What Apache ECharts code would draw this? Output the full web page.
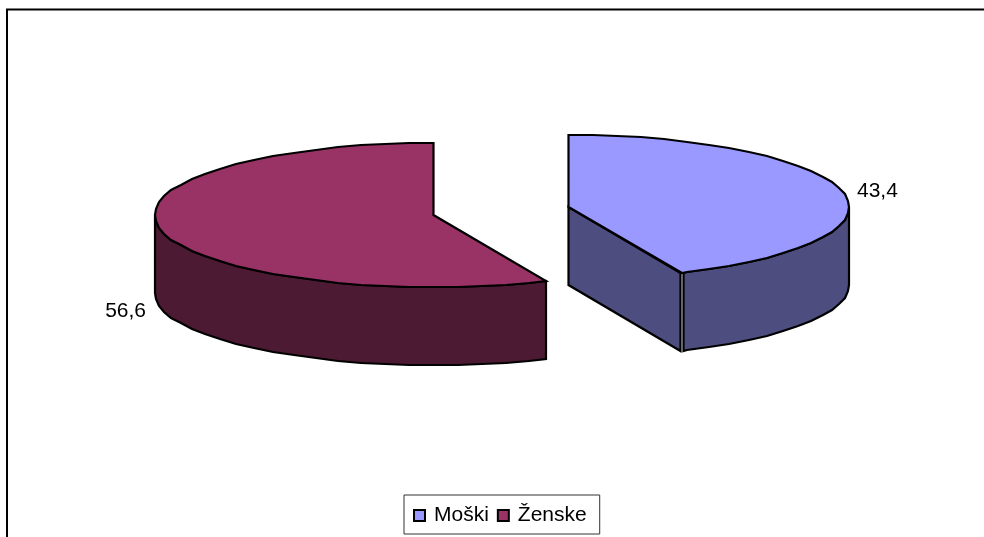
<!DOCTYPE html>
<html><head><meta charset="utf-8">
<style>html,body{margin:0;padding:0;background:#fff}#c{width:984px;height:537px}</style>
<script src="https://cdn.jsdelivr.net/npm/echarts@6/dist/echarts.min.js"></script>
</head><body><div id="c"></div>
<script>
const categories = ['Moški', 'Ženske'];
const values = [43.4, 56.6];
const topColors = ['#9999FF', '#993366'];
const sideColors = ['#4D4D80', '#4C1A33'];

const total = values.reduce((a, b) => a + b, 0);
const FONT = '"Liberation Sans", Arial, sans-serif';
const DEPTH = 78, STEP = 5;
const layouts = [
  { hx: 568.5, cx: 568.5, cy: 207, rx: 280.5, ry: 72, dir: 1, lx: 14, ly: -1, align: 'left', seam: 1.5 },
  { hx: 433.5, cx: 433.5, cy: 215, rx: 279, ry: 72, dir: -1, lx: -14, ly: 81, align: 'right', seam: 0 }
];

function point(l, deg) {
  const a = deg * Math.PI / 180;
  return [Math.round(l.cx + l.dir * Math.sin(a) * l.rx), Math.round(l.cy - Math.cos(a) * l.ry)];
}
function arc(l, from, to) {
  const pts = [];
  for (let d = from; d < to; d += STEP) pts.push(point(l, d));
  pts.push(point(l, to));
  return pts;
}
const down = p => [p[0], p[1] + DEPTH];
const polygon = (points, fill, z2) => ({
  type: 'polygon', z2,
  shape: { points },
  style: { fill, stroke: '#000', lineWidth: 2.2, lineJoin: 'miter' }
});

function renderSlice(params, api) {
  const i = params.seriesIndex;
  const l = layouts[i];
  const v = api.value(0);
  const sweep = v / total * 360;
  const children = [];
  const front = arc(l, 90, sweep);
  const last = front[front.length - 1];
  front[front.length - 1] = [last[0] + l.seam, last[1]];
  children.push(polygon(front.concat(front.slice().reverse().map(down)), sideColors[i], 1));
  if (l.dir === 1) {
    const c = [l.hx, l.cy], e = point(l, sweep);
    const ee = [e[0] - l.seam, e[1]];
    children.push(polygon([c, ee, down(ee), down(c)], sideColors[i], 2));
  }
  const start = point(l, 0);
  start[0] = l.hx;
  children.push(polygon([[l.hx, l.cy], start].concat(arc(l, STEP, sweep)), topColors[i], 3));
  const mid = point(l, sweep / 2);
  children.push({
    type: 'text', z2: 4,
    x: mid[0] + l.lx, y: mid[1] + l.ly,
    style: {
      text: String(v).replace('.', ','), fill: '#000',
      font: '21px ' + FONT, align: l.align, verticalAlign: 'middle'
    }
  });
  return { type: 'group', children };
}

const chart = echarts.init(document.getElementById('c'), null, { renderer: 'canvas' });
chart.setOption({
  animation: false,
  backgroundColor: '#fff',
  graphic: [{
    type: 'polyline', silent: true,
    shape: { points: [[7, 540], [7, 9.5], [990, 9.5]] },
    style: { fill: 'none', stroke: '#000', lineWidth: 2 }
  }],
  legend: {
    left: 404, top: 495,
    data: categories,
    orient: 'horizontal',
    padding: [10, 13, 8, 9],
    borderColor: '#333', borderWidth: 1,
    backgroundColor: '#fff',
    itemWidth: 11, itemHeight: 11, itemGap: 8,
    icon: 'rect',
    itemStyle: { borderColor: '#000', borderWidth: 2 },
    textStyle: { fontFamily: FONT, fontSize: 21, color: '#000', padding: [0, 0, 0, 4] }
  },
  series: categories.map((name, i) => ({
    type: 'custom', name,
    coordinateSystem: 'none',
    itemStyle: { color: topColors[i] },
    renderItem: renderSlice,
    silent: true,
    data: [[values[i]]]
  }))
});
</script></body></html>
